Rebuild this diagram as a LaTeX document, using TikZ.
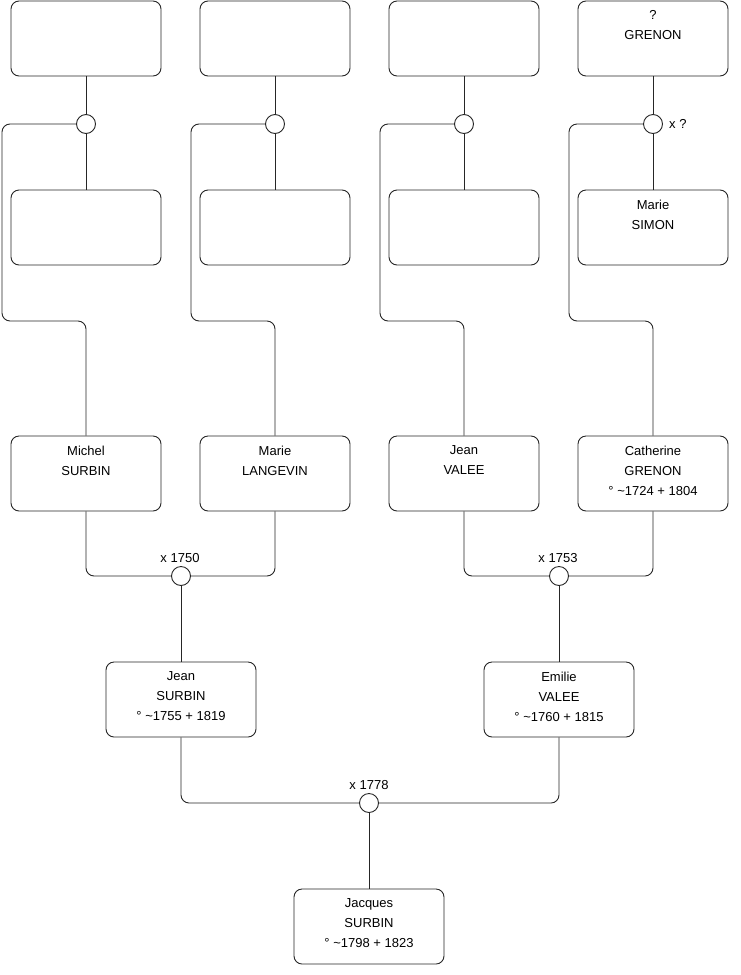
\documentclass[tikz,border=0pt]{standalone}
\usepackage{fontspec}
\setmainfont{Liberation Sans}
\tikzset{
  person/.style={draw=black!85, line width=0.9pt, rounded corners=8pt, minimum width=150pt, minimum height=75pt, inner sep=0pt, fill=white},
  ptext/.style={anchor=north, align=center, inner sep=0pt, font=\fontsize{13}{20}\selectfont},
  union/.style={draw=black!85, line width=0.9pt, circle, minimum size=19pt, inner sep=0pt, fill=white},
  link/.style={draw=black!85, line width=0.9pt, rounded corners=8pt},
  ulabel/.style={inner sep=0pt, font=\fontsize{13}{15}\selectfont}
}
\begin{document}
\begin{tikzpicture}[x=1pt, y=-1pt]
\useasboundingbox (0,0) rectangle (740,975);
% row 1
\node[person] (a1) at (86,38.5) {};
\node[person] (a2) at (275,38.5) {};
\node[person] (a3) at (464,38.5) {};
\node[person] (a4) at (653,38.5) {};
% row 2
\node[person] (b1) at (86,227.5) {};
\node[person] (b2) at (275,227.5) {};
\node[person] (b3) at (464,227.5) {};
\node[person] (b4) at (653,227.5) {};
% unions row 1
\node[union] (u1) at (86,124) {};
\node[union] (u2) at (275,124) {};
\node[union] (u3) at (464,124) {};
\node[union] (u4) at (653,124) {};
% row 3
\node[person] (c1) at (86,473.5) {};
\node[person] (c2) at (275,473.5) {};
\node[person] (c3) at (464,473.5) {};
\node[person] (c4) at (653,473.5) {};
% unions row 3
\node[union] (v1) at (181,576) {};
\node[union] (v2) at (559,576) {};
% row 4
\node[person] (d1) at (181,699.5) {};
\node[person] (d2) at (559,699.5) {};
% union row 4
\node[union] (w1) at (369,803) {};
% bottom
\node[person] (e1) at (369,926.5) {};

% texts
\node[ptext] (ta4) at ([yshift=-10pt]a4.north) {?\\GRENON};
\node[ptext] (tb4) at ([yshift=-10pt]b4.north) {Marie\\SIMON};
\node[ptext] (tc1) at ([yshift=-10pt]c1.north) {Michel\\SURBIN};
\node[ptext] (tc2) at ([yshift=-10pt]c2.north) {Marie\\LANGEVIN};
\node[ptext] (tc3) at ([yshift=-10pt]c3.north) {Jean\\VALEE};
\node[ptext] (tc4) at ([yshift=-10pt]c4.north) {Catherine\\GRENON\\° \textasciitilde1724 + 1804};
\node[ptext] (td1) at ([yshift=-10pt]d1.north) {Jean\\SURBIN\\° \textasciitilde1755 + 1819};
\node[ptext] (td2) at ([yshift=-10pt]d2.north) {Emilie\\VALEE\\° \textasciitilde1760 + 1815};
\node[ptext] (te1) at ([yshift=-10pt]e1.north) {Jacques\\SURBIN\\° \textasciitilde1798 + 1823};

% union labels
\node[ulabel, anchor=west] (lu4) at (669,124) {x ?};
\node[ulabel] (lv1) at (180,558) {x 1750};
\node[ulabel] (lv2) at (558,558) {x 1753};
\node[ulabel] (lw1) at (369,785) {x 1778};

% connectors row 1 -> row 2 -> row 3
\foreach \i/\lx/\cx in {1/2/86, 2/191/275, 3/380/464, 4/569/653} {
  \draw[link] (a\i.south) -- (u\i.north);
  \draw[link] (u\i.south) -- (b\i.north);
  \draw[link] (u\i.west) -- (\lx,124) -- (\lx,321) -- (\cx,321) -- (c\i.north);
}
% marriages row 3
\draw[link] (c1.south) -- (86,576) -- (v1.west);
\draw[link] (c2.south) -- (275,576) -- (v1.east);
\draw[link] (v1.south) -- (d1.north);
\draw[link] (c3.south) -- (464,576) -- (v2.west);
\draw[link] (c4.south) -- (653,576) -- (v2.east);
\draw[link] (v2.south) -- (d2.north);
% marriage row 4
\draw[link] (d1.south) -- (181,803) -- (w1.west);
\draw[link] (d2.south) -- (559,803) -- (w1.east);
\draw[link] (w1.south) -- (e1.north);
\end{tikzpicture}
\end{document}
